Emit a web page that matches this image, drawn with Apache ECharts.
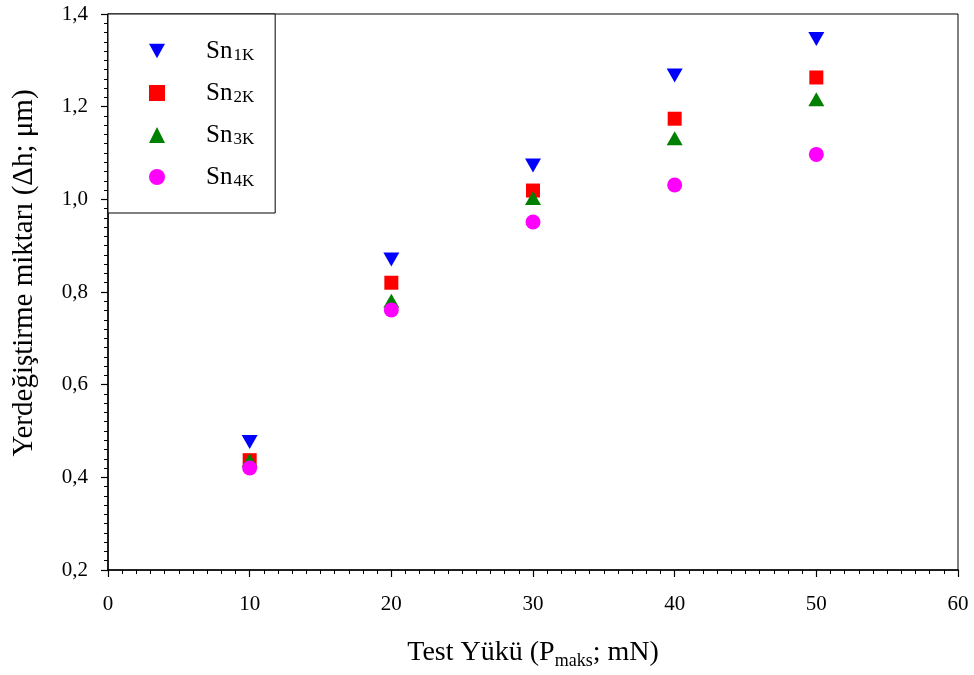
<!DOCTYPE html>
<html>
<head>
<meta charset="utf-8">
<script src="https://cdn.jsdelivr.net/npm/echarts@6/dist/echarts.min.js"></script>
<style>
  html, body { margin: 0; padding: 0; background: #fff; }
  #chart { width: 974px; height: 675px; }
</style>
</head>
<body>
<div id="chart"></div>
<script>
// Test loads (mN)
const loads = [10, 20, 30, 40, 50];
// Displacement Δh (µm) for each sample
const sn1K = [0.476, 0.870, 1.073, 1.267, 1.346];
const sn2K = [0.437, 0.820, 1.019, 1.174, 1.263];
const sn3K = [0.437, 0.781, 1.003, 1.132, 1.216];
const sn4K = [0.420, 0.761, 0.951, 1.031, 1.097];
const seriesNames = ['1K', '2K', '3K', '4K'];
// Axis tick labels (comma decimal)
const xTickLabels = ['0', '10', '20', '30', '40', '50', '60'];
const yTickLabels = ['0,2', '0,4', '0,6', '0,8', '1,0', '1,2', '1,4'];

const serif = '"Liberation Serif", "DejaVu Serif", serif';
const pairs = ys => loads.map((x, i) => [x, ys[i]]);
const downTriangle = 'path://M0,0 L10,0 L5,9 Z';

const chart = echarts.init(document.getElementById('chart'), null, { renderer: 'canvas' });

const mk = (key, data, symbol, size, color) => ({
  name: key,
  type: 'scatter',
  data: pairs(data),
  symbol: symbol,
  symbolSize: size,
  itemStyle: { color: color, opacity: 1 },
  z: 3
});

chart.setOption({
  animation: false,
  backgroundColor: '#fff',
  grid: {
    left: 108, right: 16, top: 14, bottom: 100,
    show: true, borderColor: '#000', borderWidth: 1, backgroundColor: 'transparent'
  },
  legend: {
    orient: 'vertical',
    left: 108, top: 14,
    padding: [19, 21, 23, 41],
    itemGap: 11,
    itemWidth: 16, itemHeight: 16,
    backgroundColor: '#fff',
    borderColor: '#000', borderWidth: 1,
    borderRadius: 0,
    data: seriesNames,
    formatter: n => 'Sn{sub|' + n + '}',
    textStyle: {
      fontFamily: serif, fontSize: 25, lineHeight: 26, color: '#000', padding: [0, 0, 0, 36],
      rich: { sub: { fontFamily: serif, fontSize: 17, lineHeight: 26, color: '#000', verticalAlign: 'bottom', padding: [14, 0, 0, 1] } }
    }
  },
  xAxis: {
    type: 'value', min: 0, max: 60, interval: 10,
    name: 'Test Yükü (P{sub|maks}; mN)',
    nameLocation: 'middle', nameGap: 66,
    nameTextStyle: {
      fontFamily: serif, fontSize: 28, color: '#000',
      rich: { sub: { fontFamily: serif, fontSize: 18, color: '#000', verticalAlign: 'bottom', padding: [16, 0, 0, 0] } }
    },
    axisLine: { show: true, onZero: false, lineStyle: { color: '#000', width: 1.5 } },
    axisTick: { show: true, inside: false, length: 7, lineStyle: { color: '#000', width: 1.2 } },
    minorTick: { show: true, splitNumber: 10, length: 4, lineStyle: { color: '#000', width: 1 } },
    axisLabel: {
      margin: 24, fontFamily: serif, fontSize: 21, color: '#000',
      formatter: v => xTickLabels[Math.round(v / 10)]
    },
    splitLine: { show: false }
  },
  yAxis: {
    type: 'value', min: 0.2, max: 1.4, interval: 0.2,
    name: 'Yerdeğiştirme miktarı (Δh; μm)',
    nameLocation: 'middle', nameGap: 69,
    nameTextStyle: { fontFamily: serif, fontSize: 29, color: '#000', padding: [0, 0, 0, 38] },
    axisLine: { show: true, onZero: false, lineStyle: { color: '#000', width: 1.5 } },
    axisTick: { show: true, inside: false, length: 7, lineStyle: { color: '#000', width: 1.2 } },
    minorTick: { show: true, splitNumber: 10, length: 4, lineStyle: { color: '#000', width: 1 } },
    axisLabel: {
      margin: 20, fontFamily: serif, fontSize: 21, color: '#000',
      formatter: v => yTickLabels[Math.round((v - 0.2) / 0.2)]
    },
    splitLine: { show: false }
  },
  series: [
    mk('1K', sn1K, downTriangle, [16, 14], '#0000ff'),
    mk('2K', sn2K, 'rect', 14, '#ff0000'),
    mk('3K', sn3K, 'triangle', [16, 14], '#008000'),
    mk('4K', sn4K, 'circle', 15, '#ff00ff')
  ]
});
</script>
</body>
</html>
